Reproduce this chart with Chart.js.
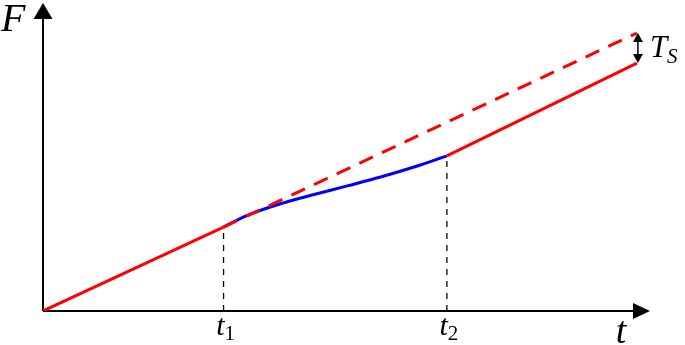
<!DOCTYPE html>
<html>
<head>
<meta charset="utf-8">
<script src="https://cdn.jsdelivr.net/npm/chart.js@4.4.1/dist/chart.umd.min.js"></script>
<style>
    html, body { margin: 0; padding: 0; background: #ffffff; }
    #wrap { width: 685px; height: 345px; }
</style>
</head>
<body>
<div id="wrap"><canvas id="chart"></canvas></div>
<script>
// Axis extents (data units)
const tMax = 10.22;
const fMax = 11.08;

// Marked times and the end of the plotted range
const t1 = 3.04;
const t2 = 6.8;
const tEnd = 10;

// Red line before t1
const lineStartT = [0, t1];
const lineStartF = [0, 3.02];

// Blue curve between t1 and t2
const curveT = [3.04, 3.45, 4.02, 4.58, 5.14, 5.70, 6.26, 6.80];
const curveF = [3.02, 3.45, 3.87, 4.20, 4.51, 4.83, 5.19, 5.58];

// Red line after t2
const lineEndT = [t2, tEnd];
const lineEndF = [5.58, 8.92];

// Dashed extension of the first line
const dashT = [t1, tEnd];
const dashF = [3.02, 10];

const red = '#ff0000';
const blue = '#0000ff';
const serif = '"Liberation Serif", "DejaVu Serif", serif';

function toPoints(xs, ys) {
    return xs.map((x, i) => ({ x: x, y: ys[i] }));
}

function arrowHead(ctx, x, y, dir, len, half) {
    // dir: 'up', 'down', 'right'
    ctx.beginPath();
    if (dir === 'up') {
        ctx.moveTo(x, y);
        ctx.lineTo(x - half, y + len);
        ctx.lineTo(x + half, y + len);
    } else if (dir === 'down') {
        ctx.moveTo(x, y);
        ctx.lineTo(x - half, y - len);
        ctx.lineTo(x + half, y - len);
    } else {
        ctx.moveTo(x, y);
        ctx.lineTo(x - len, y - half);
        ctx.lineTo(x - len, y + half);
    }
    ctx.closePath();
    ctx.fill();
}

// Axes with arrows, labels and the T_S marker
const decorations = {
    id: 'decorations',
    beforeDatasetsDraw(chart) {
        const ctx = chart.ctx;
        const xs = chart.scales.x;
        const ys = chart.scales.y;
        const x0 = xs.getPixelForValue(0);
        const y0 = ys.getPixelForValue(0);
        const xEnd = xs.getPixelForValue(tMax);
        const yTop = ys.getPixelForValue(fMax);
        ctx.save();
        ctx.strokeStyle = '#000';
        ctx.fillStyle = '#000';
        ctx.lineWidth = 2;
        ctx.beginPath();
        ctx.moveTo(x0, y0);
        ctx.lineTo(xEnd - 10, y0);
        ctx.moveTo(x0, y0);
        ctx.lineTo(x0, yTop + 10);
        ctx.stroke();
        arrowHead(ctx, xEnd, y0, 'right', 17, 8);
        arrowHead(ctx, x0, yTop, 'up', 16, 9.5);
        ctx.restore();
    },
    afterDraw(chart) {
        const ctx = chart.ctx;
        const xs = chart.scales.x;
        const ys = chart.scales.y;
        const y0 = ys.getPixelForValue(0);
        ctx.save();
        ctx.fillStyle = '#000';
        ctx.textBaseline = 'alphabetic';

        // axis names
        ctx.font = 'italic 40px ' + serif;
        ctx.textAlign = 'left';
        ctx.fillText('F', 1, 31);
        ctx.font = 'italic 38px ' + serif;
        ctx.textAlign = 'center';
        ctx.fillText('t', xs.getPixelForValue(tEnd) - 16, 343);

        // t1, t2
        [[t1, '1'], [t2, '2']].forEach(([t, sub]) => {
            const px = xs.getPixelForValue(t);
            ctx.font = 'italic 30px ' + serif;
            ctx.textAlign = 'right';
            ctx.fillText('t', px + 1, y0 + 24);
            ctx.font = '21px ' + serif;
            ctx.textAlign = 'left';
            ctx.fillText(sub, px + 1, y0 + 29);
        });

        // T_S double arrow
        const ax = xs.getPixelForValue(tEnd) + 1;
        const yHi = ys.getPixelForValue(dashF[1]);
        const yLo = ys.getPixelForValue(lineEndF[1]);
        ctx.strokeStyle = '#000';
        ctx.lineWidth = 1.5;
        ctx.beginPath();
        ctx.moveTo(ax, yHi + 6);
        ctx.lineTo(ax, yLo - 6);
        ctx.stroke();
        arrowHead(ctx, ax, yHi, 'up', 9, 5);
        arrowHead(ctx, ax, yLo, 'down', 9, 5);
        ctx.font = 'italic 31px ' + serif;
        ctx.textAlign = 'left';
        ctx.fillText('T', 650, 57);
        ctx.font = 'italic 21px ' + serif;
        ctx.fillText('S', 667, 63);
        ctx.restore();
    }
};

function guideLine(t, f) {
    return {
        data: toPoints([t, t], [0, f]),
        showLine: true,
        borderColor: '#000',
        borderWidth: 1.3,
        borderDash: [6, 6],
        pointRadius: 0,
        order: 4
    };
}

new Chart(document.getElementById('chart'), {
    type: 'scatter',
    data: {
        datasets: [
            guideLine(t1, curveF[0]),
            guideLine(t2, curveF[curveF.length - 1]),
            {
                data: toPoints(lineStartT, lineStartF),
                showLine: true,
                borderColor: red,
                borderWidth: 3,
                pointRadius: 0,
                order: 2
            },
            {
                data: toPoints(curveT, curveF),
                showLine: true,
                borderColor: blue,
                borderWidth: 3,
                pointRadius: 0,
                cubicInterpolationMode: 'monotone',
                order: 3
            },
            {
                data: toPoints(lineEndT, lineEndF),
                showLine: true,
                borderColor: red,
                borderWidth: 3,
                pointRadius: 0,
                order: 2
            },
            {
                data: toPoints(dashT, dashF),
                showLine: true,
                borderColor: red,
                borderWidth: 3,
                borderDash: [15, 10],
                pointRadius: 0,
                order: 1
            }
        ]
    },
    options: {
        responsive: true,
        maintainAspectRatio: false,
        animation: false,
        layout: {
            padding: { left: 43, right: 35, top: 3, bottom: 34 }
        },
        plugins: {
            legend: { display: false },
            tooltip: { enabled: false }
        },
        scales: {
            x: { type: 'linear', display: false, min: 0, max: tMax },
            y: { type: 'linear', display: false, min: 0, max: fMax }
        }
    },
    plugins: [decorations]
});
</script>
</body>
</html>
